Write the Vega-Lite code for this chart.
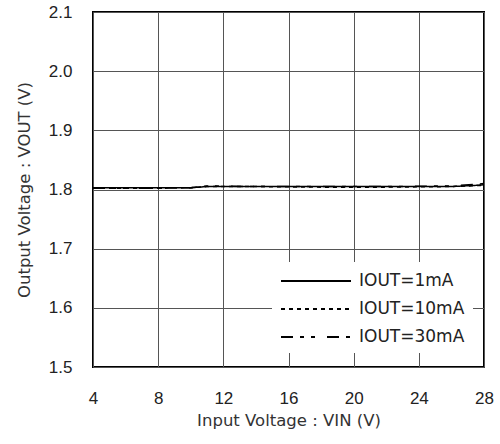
{
  "$schema": "https://vega.github.io/schema/vega-lite/v6.json",
  "width": 391,
  "height": 355,
  "autosize": {"type": "none"},
  "padding": {"left": 93, "top": 12, "right": 16, "bottom": 77},
  "background": "white",
  "config": {
    "view": {"stroke": "black", "strokeWidth": 2},
    "font": "Liberation Sans",
    "axis": {
      "domain": false,
      "ticks": false,
      "grid": true,
      "gridColor": "#555555",
      "gridWidth": 1,
      "gridOpacity": 1,
      "labelFont": "Liberation Sans",
      "labelFontSize": 17,
      "labelColor": "#222222",
      "titleFont": "DejaVu Sans",
      "titleFontSize": 16.5,
      "titleFontWeight": "normal",
      "titleColor": "#333333"
    }
  },
  "data": {
    "values": [
      {"vin": 4, "vout": 1.803, "s": "IOUT=1mA"},
      {"vin": 6, "vout": 1.803, "s": "IOUT=1mA"},
      {"vin": 8, "vout": 1.803, "s": "IOUT=1mA"},
      {"vin": 10, "vout": 1.803, "s": "IOUT=1mA"},
      {"vin": 11, "vout": 1.805, "s": "IOUT=1mA"},
      {"vin": 14, "vout": 1.805, "s": "IOUT=1mA"},
      {"vin": 18, "vout": 1.805, "s": "IOUT=1mA"},
      {"vin": 22, "vout": 1.805, "s": "IOUT=1mA"},
      {"vin": 26, "vout": 1.805, "s": "IOUT=1mA"},
      {"vin": 27.5, "vout": 1.807, "s": "IOUT=1mA"},
      {"vin": 28, "vout": 1.808, "s": "IOUT=1mA"},
      {"vin": 4, "vout": 1.802, "s": "IOUT=10mA"},
      {"vin": 6, "vout": 1.802, "s": "IOUT=10mA"},
      {"vin": 8, "vout": 1.802, "s": "IOUT=10mA"},
      {"vin": 10, "vout": 1.803, "s": "IOUT=10mA"},
      {"vin": 11, "vout": 1.805, "s": "IOUT=10mA"},
      {"vin": 14, "vout": 1.805, "s": "IOUT=10mA"},
      {"vin": 18, "vout": 1.804, "s": "IOUT=10mA"},
      {"vin": 22, "vout": 1.804, "s": "IOUT=10mA"},
      {"vin": 26, "vout": 1.805, "s": "IOUT=10mA"},
      {"vin": 28, "vout": 1.807, "s": "IOUT=10mA"},
      {"vin": 4, "vout": 1.802, "s": "IOUT=30mA"},
      {"vin": 6, "vout": 1.802, "s": "IOUT=30mA"},
      {"vin": 8, "vout": 1.802, "s": "IOUT=30mA"},
      {"vin": 10, "vout": 1.803, "s": "IOUT=30mA"},
      {"vin": 11, "vout": 1.806, "s": "IOUT=30mA"},
      {"vin": 14, "vout": 1.805, "s": "IOUT=30mA"},
      {"vin": 18, "vout": 1.805, "s": "IOUT=30mA"},
      {"vin": 22, "vout": 1.805, "s": "IOUT=30mA"},
      {"vin": 26, "vout": 1.806, "s": "IOUT=30mA"},
      {"vin": 27.5, "vout": 1.809, "s": "IOUT=30mA"},
      {"vin": 28, "vout": 1.81, "s": "IOUT=30mA"}
    ]
  },
  "mark": {"type": "line", "color": "black", "strokeWidth": 1.5, "clip": true},
  "encoding": {
    "x": {
      "field": "vin",
      "type": "quantitative",
      "scale": {"domain": [4, 28], "nice": false, "zero": false},
      "axis": {"values": [4, 8, 12, 16, 20, 24, 28], "title": "Input Voltage : VIN (V)", "labelPadding": 23, "titlePadding": 6, "labelFlush": false}
    },
    "y": {
      "field": "vout",
      "type": "quantitative",
      "scale": {"domain": [1.5, 2.1], "nice": false, "zero": false},
      "axis": {"values": [1.5, 1.6, 1.7, 1.8, 1.9, 2.0, 2.1], "format": ".1f", "title": "Output Voltage : VOUT (V)", "labelPadding": 21, "titlePadding": 16, "labelFlush": false}
    },
    "strokeDash": {
      "field": "s",
      "type": "nominal",
      "scale": {
        "domain": ["IOUT=1mA", "IOUT=10mA", "IOUT=30mA"],
        "range": [[1, 0], [4, 4], [12, 7, 4, 7, 4, 12]]
      },
      "legend": {
        "title": null,
        "orient": "none",
        "legendX": 179,
        "legendY": 250,
        "fillColor": "white",
        "padding": 8,
        "symbolType": "M-1,0H6",
        "symbolSize": 400,
        "symbolStrokeWidth": 2,
        "symbolStrokeColor": "black",
        "labelFontSize": 17,
        "labelFont": "DejaVu Sans",
        "labelColor": "#222222",
        "labelOffset": 57,
        "rowPadding": 9,
        "labelLimit": 200
      }
    }
  }
}
